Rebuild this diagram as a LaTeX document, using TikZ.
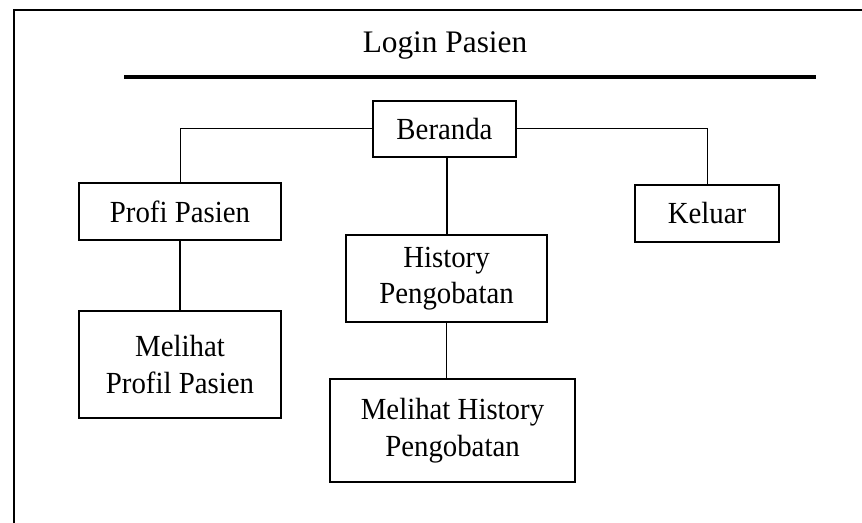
\documentclass[tikz,border=0pt]{standalone}
\usepackage{fontspec}
\setmainfont{Liberation Serif}
\newfontfamily\menufont[FakeStretch=0.94]{Liberation Serif}
\usetikzlibrary{positioning}

\begin{document}
\begin{tikzpicture}[
  x=0.75pt, y=-0.75pt,
  menu/.style={draw, rectangle, line width=1.5pt, align=center, inner sep=0pt,
    font=\menufont\fontsize{23}{27.5}\selectfont},
  link/.style={line width=0.75pt},
]
\useasboundingbox (0,0) rectangle (862,523);

% frame and title
\draw[line width=1.5pt] (14,523) -- (14,10) -- (862,10);
\node (title) [font=\fontsize{23.5}{28}\selectfont, anchor=base] at (445,53) {Login Pasien};
\draw[line width=2.8pt] (124,77) -- (816,77);

% menu boxes
\node (beranda) [menu, minimum width=107.25pt, minimum height=42pt] at (444.5,129) {Beranda};
\node (profi) [menu, minimum width=151.5pt, minimum height=42.75pt] at (180,211.5) {Profi Pasien};
\node (keluar) [menu, minimum width=108pt, minimum height=42.75pt] at (707,213.5) {Keluar};
\node (history) [menu, minimum width=150.75pt, minimum height=65.25pt] at (446.5,278.5) {History\\Pengobatan};
\node (lihatprofil) [menu, minimum width=151.5pt, minimum height=80.25pt] at (180,364.5) {Melihat\\Profil Pasien};
\node (lihathistory) [menu, minimum width=183.75pt, minimum height=77.25pt] at (452.5,430.5) {Melihat History\\Pengobatan};

% connectors
\draw[link] (beranda.west) -| (profi.north);
\draw[link] (beranda.east) -| (keluar.north);
\draw[link, line width=1.5pt] (history.north) -- (history.north |- beranda.south);
\draw[link, line width=1.1pt] (profi.south) -- (lihatprofil.north);
\draw[link] (history.south) -- (history.south |- lihathistory.north);
\end{tikzpicture}
\end{document}
